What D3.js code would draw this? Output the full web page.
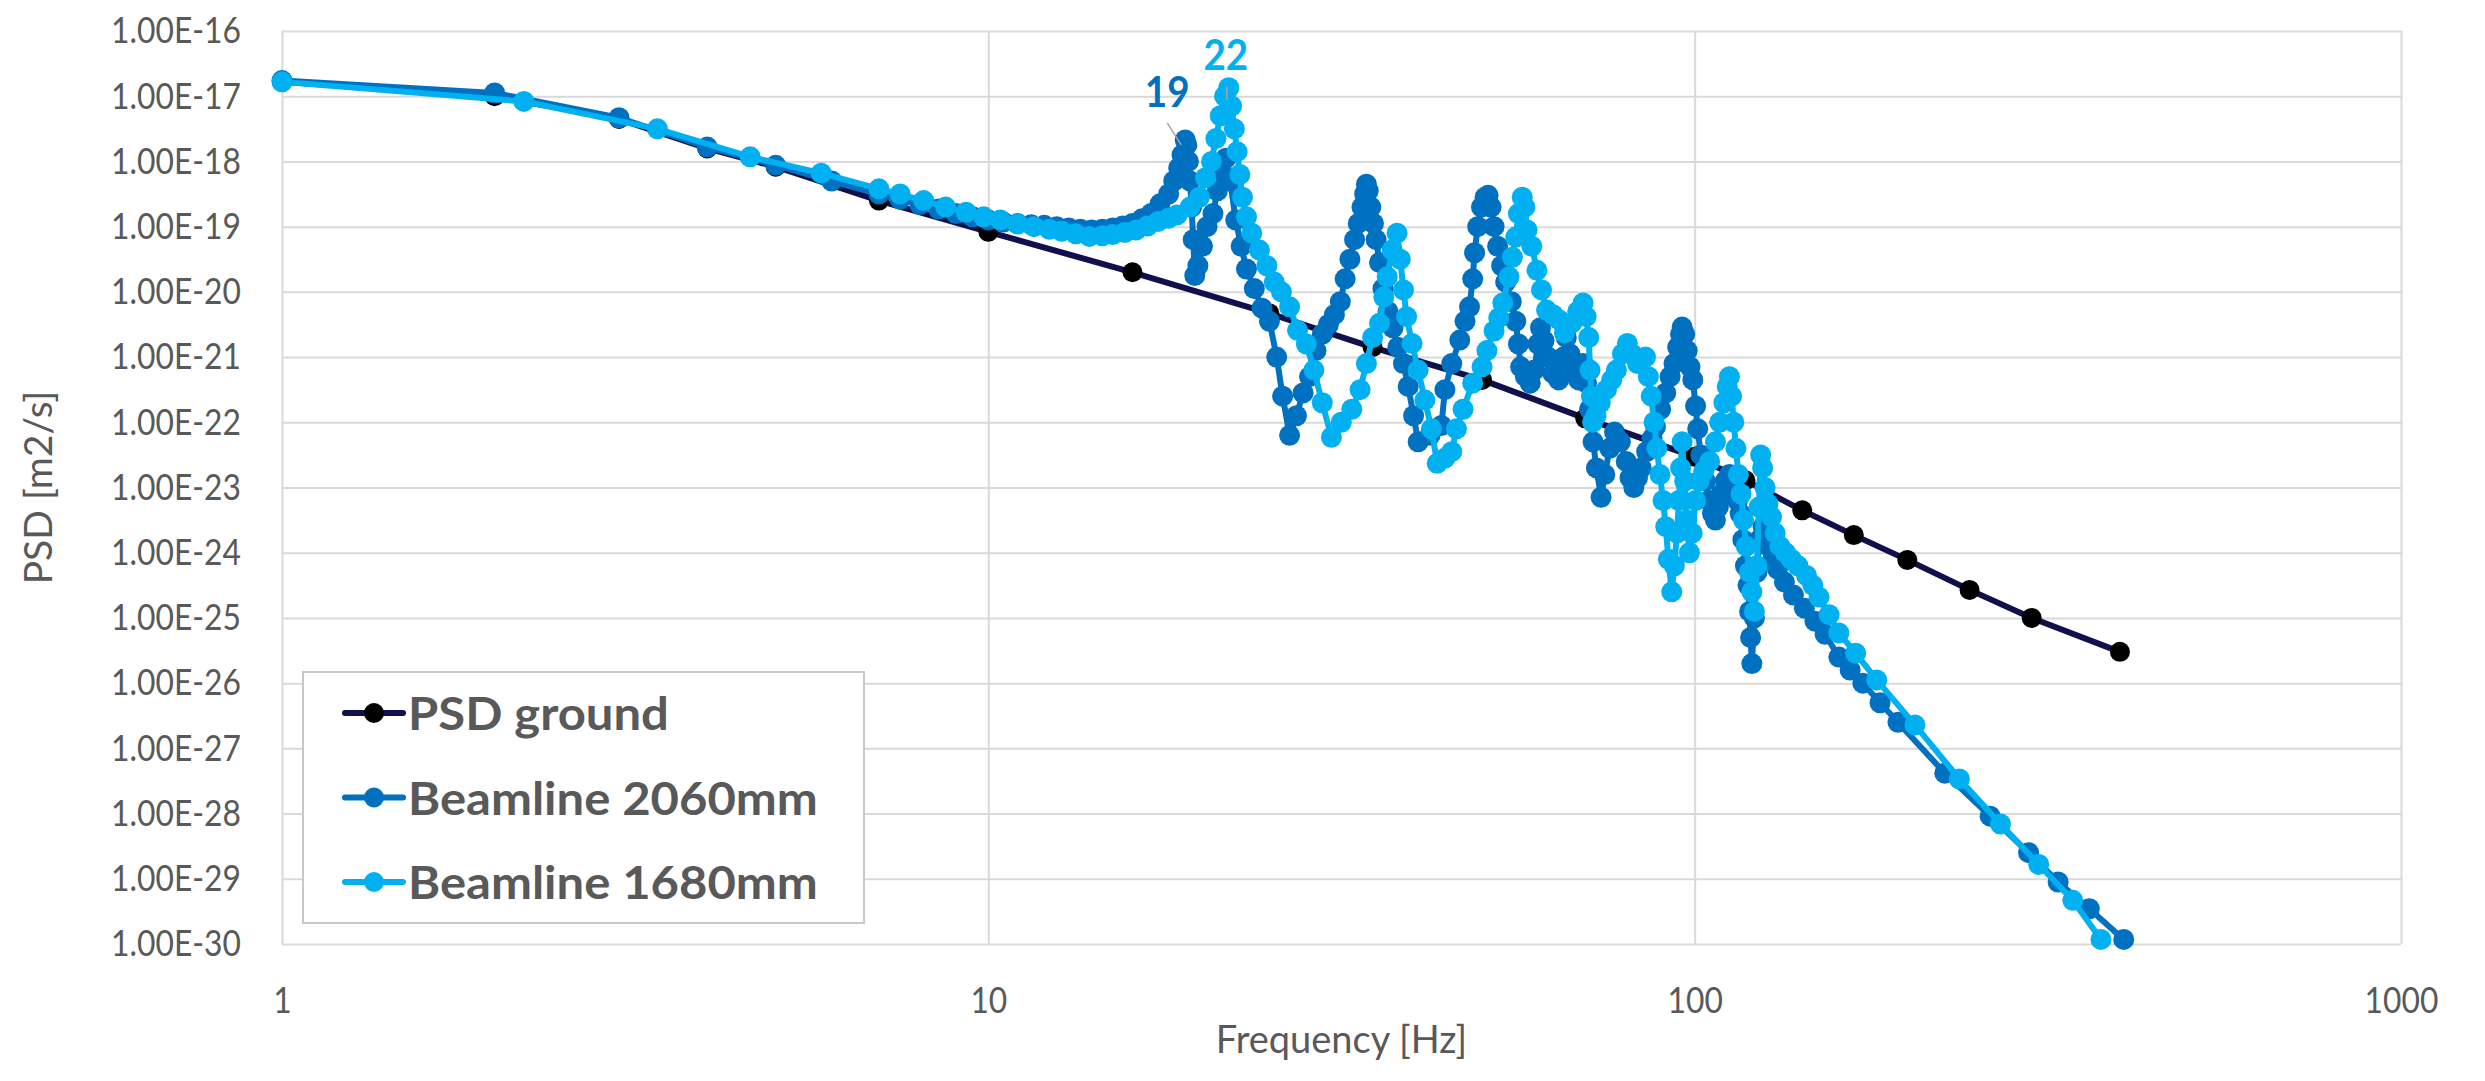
<!DOCTYPE html>
<html>
<head>
<meta charset="utf-8">
<script src="https://cdn.jsdelivr.net/npm/d3@7"></script>
<style>
  body { margin: 0; background: #fff; }
  text { font-family: Lato, "Open Sans", sans-serif; }
</style>
</head>
<body>
<div id="chart"></div>
<script>
var width = 2485, height = 1081;
var margin = {left: 282, right: 84, top: 31, bottom: 137};

// axis ticks
var xTicks = [1, 10, 100, 1000];
var yTicks = [1e-16, 1e-17, 1e-18, 1e-19, 1e-20, 1e-21, 1e-22, 1e-23, 1e-24, 1e-25, 1e-26, 1e-27, 1e-28, 1e-29, 1e-30];
var yTickLabels = ["1.00E-16", "1.00E-17", "1.00E-18", "1.00E-19", "1.00E-20", "1.00E-21", "1.00E-22", "1.00E-23",
                   "1.00E-24", "1.00E-25", "1.00E-26", "1.00E-27", "1.00E-28", "1.00E-29", "1.00E-30"];

var seriesNames = ["PSD ground", "Beamline 2060mm", "Beamline 1680mm"];

// PSD values are kept as exponents (log10 of m2/s)
var groundFreq = [1, 2, 3, 4, 5, 7, 10, 16, 25, 35, 50, 70, 100, 118, 142, 168, 200, 245, 300, 400];
var groundExp = [-16.78, -17.0, -17.35, -17.8, -18.08, -18.6, -19.08, -19.7, -20.33, -20.85, -21.35, -21.94,
                 -22.53, -22.89, -23.35, -23.73, -24.11, -24.57, -25.0, -25.52];

var bl2060Freq = [1, 2, 3, 4, 5, 6, 7, 7.5, 8, 8.5, 9, 9.5, 10, 10.5, 11, 11.5, 12, 12.5, 13, 13.5, 14, 14.5, 15,
  15.5, 16, 16.5, 17, 17.5, 18, 18.3, 18.6, 18.8, 19.0, 19.1,
  19.2, 19.3, 19.4, 19.5, 19.6, 19.8, 20.1, 20.4, 20.8, 21.1, 21.4, 21.7, 22.0, 22.4, 22.8, 23.2, 23.8, 24.4, 25.0,
  25.6, 26.1, 26.7, 27.3, 27.9, 28.5, 29.1, 29.7, 30.3, 30.9, 31.5, 32.0, 32.5, 33.0, 33.4, 33.8, 34.1, 34.3, 34.5,
  34.8, 35.1, 35.4, 35.8, 36.2, 36.8, 37.4, 38.0, 38.7, 39.3, 40.0, 40.6, 42.2, 43.8, 44.3, 45.3, 46.5, 47.3, 48.0,
  48.5, 48.8, 49.3, 49.9, 50.5, 51.0, 51.5, 52.0, 52.6, 53.3, 54.0, 55.0, 55.8, 56.3, 56.7, 57.6, 58.5, 59.3, 60.0,
  60.5, 61.2, 62.0, 63.0, 64.2, 65.2, 65.8, 66.6, 67.5, 68.5, 69.5, 70.3, 71.0, 71.8, 72.6, 73.7, 74.6, 75.8, 77.0,
  78.5, 80.0, 81.0, 82.0, 83.0, 84.0, 85.5, 87.0, 88.0, 89.5, 91.0, 92.3, 93.5, 94.6, 95.5, 96.0, 96.8, 97.6, 98.5,
  99.4, 100.3, 101.0, 102.0, 103.5, 104.8, 106.0, 107.0, 108.0, 109.0, 110.5, 112.0, 113.0, 114.0, 115.0, 116.0,
  117.0, 118.0, 119.0, 119.6, 120.0, 120.5, 121.5, 122.5, 123.5, 125.0, 127.0, 129.0, 131.0, 134.0, 138.0, 143.0,
  148.0, 153.0, 160.0, 166.0, 173.0, 183.0, 194.0, 226.0, 262.0, 297.0, 327.0, 362.0, 405.0];
var bl2060Exp = [-16.76, -16.95, -17.33, -17.78, -18.06, -18.3, -18.5, -18.58, -18.66, -18.73, -18.8, -18.85, -18.9,
  -18.93, -18.95, -18.97, -18.98, -19.0, -19.02, -19.04, -19.05, -19.04, -19.02, -18.99, -18.95, -18.88,
  -18.8, -18.65, -18.5, -18.3, -18.1, -17.9, -17.67, -17.75, -18.0, -18.3, -18.7, -19.2,
  -19.75, -19.6, -19.3, -19.0, -18.8, -18.45, -18.15, -17.95, -18.3, -18.9, -19.3, -19.65, -19.95, -20.25, -20.45,
  -21.0, -21.6, -22.2, -21.9, -21.55, -21.3, -20.9, -20.65, -20.5, -20.35, -20.15, -19.8, -19.5, -19.2, -18.95,
  -18.7, -18.5, -18.35, -18.45, -18.7, -18.95, -19.2, -19.55, -19.95, -20.3, -20.55, -20.85, -21.1, -21.45, -21.9,
  -22.3, -22.2, -22.05, -21.5, -21.1, -20.74, -20.45, -20.23, -19.8, -19.4, -19.0, -18.7, -18.55, -18.52, -18.7,
  -19.0, -19.3, -19.6, -19.85, -20.15, -20.45, -20.8, -21.15, -21.3, -21.4, -21.2, -20.8, -20.55, -20.75, -21.0,
  -21.25, -21.35, -21.0, -20.7, -20.95, -21.2, -21.35, -21.1, -21.4, -21.8, -22.3, -22.7, -23.15, -22.8, -22.4,
  -22.15, -22.3, -22.6, -22.85, -23.0, -22.85, -22.7, -22.45, -22.25, -22.07, -21.8, -21.55, -21.3, -21.1, -20.85,
  -20.65, -20.54, -20.65, -20.9, -21.15, -21.35, -21.75, -22.1, -22.5, -22.9, -23.2, -23.4, -23.5, -23.3, -23.1,
  -22.9, -22.8, -22.9, -23.0, -23.2, -23.4, -23.8, -24.2, -24.5, -24.9, -25.3, -25.7, -25.0, -24.3, -23.8, -23.6,
  -23.9, -24.1, -24.25, -24.45, -24.65, -24.85, -25.05, -25.25, -25.6, -25.8, -26.0, -26.3, -26.6, -27.38, -28.04,
  -28.6, -29.05, -29.46, -29.93];

var bl1680Freq = [1, 2.2, 3.4, 4.6, 5.8, 7.0, 7.5, 8.1, 8.7, 9.3, 9.85, 10.4, 11.0, 11.6, 12.2, 12.7, 13.3, 13.9,
  14.5, 15.0, 15.6, 16.2, 16.8, 17.4, 18.0, 18.5, 19.3, 19.9,
  20.3, 20.7, 21.0, 21.3, 21.6, 21.9, 22.1, 22.3, 22.5, 22.7, 22.9, 23.2, 23.6, 24.2, 24.8, 25.4, 26.0, 26.7, 27.4,
  28.2, 28.9, 29.7, 30.6, 31.6, 32.7, 33.6, 34.3, 35.0, 35.8, 36.3, 36.7, 37.3, 37.9, 38.3, 38.7, 39.1, 39.8, 40.6,
  41.5, 42.4, 43.2, 44.3, 45.3, 46.0, 47.0, 48.5, 50.0, 50.8, 52.0, 52.8, 53.5, 54.6, 55.2, 55.8, 56.3, 57.0, 57.5,
  57.9, 58.8, 59.8, 60.7, 61.7, 63.0, 64.3, 65.4, 67.0, 68.3, 69.5, 70.2, 70.8, 71.1, 71.4, 71.7, 72.5, 73.5, 75.0,
  76.3, 77.5, 79.0, 80.3, 81.5, 83.0, 84.2, 85.2, 86.0, 86.8, 87.6, 88.4, 89.3, 90.2, 91.0, 91.8, 92.8, 93.6, 94.4,
  95.0, 95.5, 96.0, 96.8, 97.5, 98.3, 99.2, 100.3, 101.5, 103.0, 105.0, 107.0, 108.5, 110.0, 111.2, 112.0, 112.8,
  113.6, 114.4, 115.3, 116.3, 117.3, 118.3, 119.5, 120.5, 121.5, 122.5, 123.3, 124.0, 124.8, 125.8, 127.0, 128.5,
  130.0, 132.0, 134.5, 137.0, 140.0, 144.0, 147.0, 150.0, 155.0, 160.0, 169.0, 181.0, 205.0, 237.0, 271.0, 307.0,
  343.0, 376.0];
var bl1680Exp = [-16.78, -17.08, -17.5, -17.93, -18.18, -18.42, -18.5, -18.6, -18.7, -18.78, -18.85, -18.9, -18.96,
  -19.0, -19.04, -19.07, -19.11, -19.15, -19.14, -19.12, -19.09, -19.05, -18.99, -18.92, -18.87, -18.82, -18.7, -18.55,
  -18.25, -18.0, -17.65, -17.3, -17.0, -16.87, -17.15, -17.5, -17.85, -18.2,
  -18.55, -18.85, -19.1, -19.36, -19.6, -19.85, -20.0, -20.23, -20.59, -20.8, -21.2, -21.7, -22.23, -22.0, -21.8,
  -21.5, -21.1, -20.7, -20.48, -20.08, -19.77, -19.36, -19.1, -19.5, -19.97, -20.38, -20.79, -21.2, -21.66, -22.1,
  -22.63, -22.55, -22.45, -22.1, -21.8, -21.4, -21.15, -20.9, -20.6, -20.4, -20.17, -19.77, -19.47, -19.16, -18.8,
  -18.55, -18.7, -19.05, -19.3, -19.67, -19.97, -20.28, -20.35, -20.43, -20.63, -20.48, -20.3, -20.17, -20.38,
  -20.7, -21.2, -21.6, -22.0, -21.9, -21.7, -21.5, -21.35, -21.2, -20.95, -20.79, -20.95, -21.1, -21.05, -21.0,
  -21.3, -21.6, -22.0, -22.4, -22.8, -23.2, -23.6, -24.1, -24.6, -24.2, -23.7, -23.2, -22.7, -22.3, -22.9, -23.5,
  -24.0, -23.7, -23.2, -22.9, -22.75, -22.6, -22.3, -22.0, -21.7, -21.45, -21.3, -21.6, -22.0, -22.4, -22.8, -23.1,
  -23.5, -23.9, -24.3, -24.6, -24.9, -24.2, -23.3, -22.5, -22.7, -23.0, -23.25, -23.45, -23.7, -23.9, -24.0, -24.1,
  -24.2, -24.35, -24.5, -24.68, -24.95, -25.23, -25.54, -25.95, -26.64, -27.47, -28.16, -28.78, -29.33, -29.93];

// peak labels (series index, frequency of the labelled point, text)
var peakSeries = [1, 2];
var peakFreq = [19.0, 21.9];
var peakText = ["19", "22"];

var colors = ["#10104d", "#0070c0", "#00b0f0"];
var dotColors = ["#000000", "#0070c0", "#00b0f0"];
var textColor = "#595959";

document.addEventListener('DOMContentLoaded', function () {

    var svg = d3.select("#chart")
        .append("svg")
        .attr("width", width)
        .attr("height", height)
        .style("background", "#fff");

    var plotW = width - margin.left - margin.right;
    var plotH = height - margin.top - margin.bottom;

    var x = d3.scaleLog().domain([1, 1000]).range([margin.left, width - margin.right]);
    var y = d3.scaleLog().domain([1e-30, 1e-16]).range([height - margin.bottom, margin.top]);

    // gridlines
    svg.append("g").attr("class", "grid")
        .attr("transform", "translate(" + margin.left + ",0)")
        .call(d3.axisLeft(y).tickValues(yTicks).tickSize(-plotW).tickFormat(""));
    svg.append("g").attr("class", "grid")
        .attr("transform", "translate(0," + (height - margin.bottom) + ")")
        .call(d3.axisBottom(x).tickValues(xTicks).tickSize(-plotH).tickFormat(""));
    svg.selectAll(".grid .domain").remove();
    svg.selectAll(".grid line").attr("stroke", "#d9d9d9").attr("stroke-width", 2);

    // tick labels
    var ya = svg.append("g")
        .attr("transform", "translate(" + margin.left + ",0)")
        .call(d3.axisLeft(y).tickValues(yTicks).tickSize(0).tickFormat((d, i) => yTickLabels[i]));
    ya.select(".domain").remove();
    ya.selectAll("text")
        .attr("x", 0)
        .attr("transform", "translate(-41,0) scale(0.86,1)")
        .attr("fill", textColor)
        .style("font-size", "37px")
        .style("font-family", "Lato, sans-serif");

    var xa = svg.append("g")
        .attr("transform", "translate(0," + (height - margin.bottom) + ")")
        .call(d3.axisBottom(x).tickValues(xTicks).tickSize(0).tickFormat(d3.format("d")));
    xa.select(".domain").remove();
    xa.selectAll("text")
        .attr("y", 0)
        .attr("dy", 0)
        .attr("transform", "translate(0,69) scale(0.86,1)")
        .attr("fill", textColor)
        .style("font-size", "37px")
        .style("font-family", "Lato, sans-serif");

    // axis titles
    svg.append("text")
        .text("Frequency [Hz]")
        .attr("x", margin.left + plotW / 2)
        .attr("y", 1053)
        .style("text-anchor", "middle")
        .attr("fill", textColor)
        .style("font-size", "38px");

    svg.append("text")
        .text("PSD [m2/s]")
        .attr("transform", "translate(52," + (margin.top + plotH / 2) + ") rotate(-90)")
        .style("text-anchor", "middle")
        .attr("fill", textColor)
        .style("font-size", "39px");

    // series
    var series = [
        {freq: groundFreq, exp: groundExp, r: 10},
        {freq: bl2060Freq, exp: bl2060Exp, r: 10.5},
        {freq: bl1680Freq, exp: bl1680Exp, r: 10.5}
    ];
    series.forEach(s => {
        s.points = s.freq.map((f, i) => ({f: f, v: Math.pow(10, s.exp[i])}));
    });

    var line = d3.line().x(d => x(d.f)).y(d => y(d.v));

    series.forEach((s, k) => {
        var g = svg.append("g").attr("class", "series");
        g.append("path")
            .attr("d", line(s.points))
            .attr("fill", "none")
            .attr("stroke", colors[k])
            .attr("stroke-width", 6)
            .attr("stroke-linejoin", "round");
        g.selectAll("circle")
            .data(s.points)
            .enter()
            .append("circle")
            .attr("cx", d => x(d.f))
            .attr("cy", d => y(d.v))
            .attr("r", s.r)
            .attr("fill", dotColors[k]);
    });

    // peak labels with leader lines
    peakSeries.forEach((k, i) => {
        var p = series[k].points.find(d => d.f === peakFreq[i]);
        var px = x(p.f), py = y(p.v);
        var lx = k == 1 ? px - 18 : px - 3;
        var ly = k == 1 ? py - 48 : py - 33;
        svg.append("line")
            .attr("x1", k == 1 ? px - 18 : px - 2)
            .attr("y1", k == 1 ? py - 17 : py - 1)
            .attr("x2", k == 1 ? px - 4 : px - 2)
            .attr("y2", k == 1 ? py + 5 : py + 12)
            .attr("stroke", "#a6a6a6")
            .attr("stroke-width", 1.5);
        svg.append("text")
            .text(peakText[i])
            .attr("transform", "translate(" + lx + "," + (ly + 15) + ") scale(0.92,1)")
            .style("text-anchor", "middle")
            .style("font-weight", "bold")
            .style("font-size", "42px")
            .attr("fill", colors[k]);
    });

    // legend
    var legend = svg.append("g").attr("class", "legend");
    legend.append("rect")
        .attr("x", 303).attr("y", 672)
        .attr("width", 561).attr("height", 251)
        .attr("fill", "#fff")
        .attr("stroke", "#c8c8c8")
        .attr("stroke-width", 2);

    var labels = [];
    seriesNames.forEach((name, k) => {
        var cy = 713 + k * 84.5;
        legend.append("line")
            .attr("x1", 345).attr("x2", 403)
            .attr("y1", cy).attr("y2", cy)
            .attr("stroke", colors[k])
            .attr("stroke-width", 6)
            .attr("stroke-linecap", "round");
        legend.append("circle")
            .attr("cx", 374).attr("cy", cy)
            .attr("r", 10)
            .attr("fill", dotColors[k]);
        labels.push(legend.append("text")
            .text(name)
            .attr("transform", "translate(408," + (cy + 17) + ")")
            .attr("fill", textColor)
            .style("font-weight", "bold")
            .style("font-size", "46px"));
    });
    // match the width of the longest legend entry
    var sx = 410 / labels[1].node().getComputedTextLength();
    labels.forEach((t, k) => {
        t.attr("transform", "translate(408," + (713 + k * 84.5 + 17) + ") scale(" + sx + ",1)");
    });
});
</script>
</body>
</html>
